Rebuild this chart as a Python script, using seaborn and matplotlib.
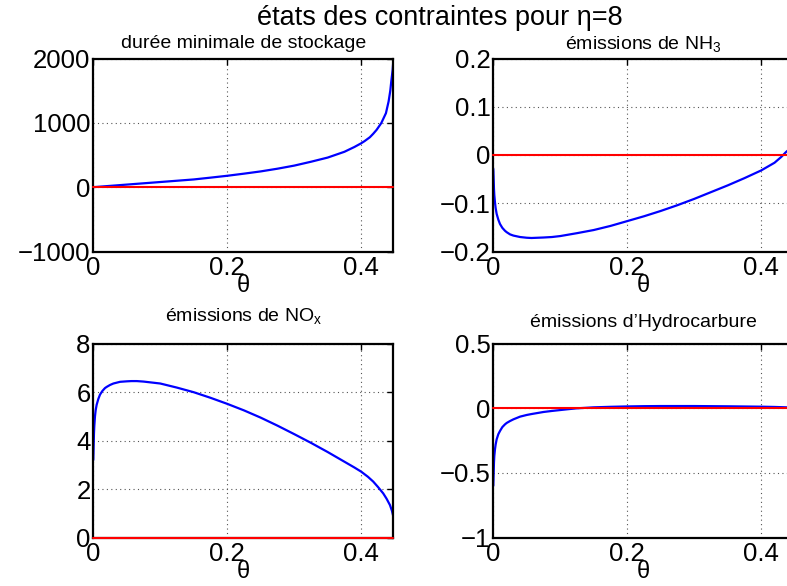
import matplotlib
matplotlib.use("Agg")
import matplotlib.pyplot as plt
from matplotlib.ticker import FuncFormatter
import seaborn as sns
import pandas as pd

# ---------------- data ----------------
theta_duree = [0, 0.05, 0.075, 0.10, 0.125, 0.15, 0.175, 0.20, 0.225, 0.25, 0.275,
               0.30, 0.325, 0.35, 0.375, 0.39, 0.40, 0.405, 0.413, 0.418, 0.423,
               0.430, 0.437, 0.441, 0.4435, 0.445, 0.447, 0.448]
duree = [0, 40, 60, 80, 100, 120, 148, 177, 210, 245, 287,
         335, 395, 460, 550, 625, 682, 715, 776, 830, 890,
         995, 1150, 1333, 1500, 1646, 1820, 1960]

theta_nh3 = [0, 0.001, 0.0015, 0.0025, 0.0035, 0.005, 0.0075, 0.01, 0.0135, 0.0174,
             0.02, 0.025, 0.03, 0.04, 0.05, 0.057, 0.075, 0.0875, 0.10, 0.125,
             0.15, 0.175, 0.20, 0.225, 0.25, 0.275, 0.30, 0.325, 0.35, 0.375,
             0.40, 0.41, 0.42, 0.43, 0.437, 0.443, 0.448]
nh3 = [-0.0285, -0.07, -0.083, -0.098, -0.11, -0.122, -0.134, -0.143, -0.151, -0.157,
       -0.160, -0.1645, -0.167, -0.170, -0.1715, -0.172, -0.171, -0.170, -0.168, -0.162,
       -0.1555, -0.147, -0.137, -0.127, -0.116, -0.104, -0.091, -0.077, -0.063, -0.048,
       -0.032, -0.024, -0.016, -0.004, 0.006, 0.013, 0.02]

theta_nox = [0, 0.001, 0.0015, 0.0025, 0.0035, 0.005, 0.0075, 0.01, 0.0135, 0.0174,
             0.02, 0.025, 0.03, 0.04, 0.05, 0.057, 0.065, 0.075, 0.0875, 0.10,
             0.125, 0.15, 0.175, 0.20, 0.225, 0.25, 0.275, 0.30, 0.325, 0.35,
             0.375, 0.39, 0.40, 0.41, 0.418, 0.425, 0.433, 0.438, 0.443, 0.446, 0.448]
nox = [3.2, 4.3, 4.6, 5.0, 5.25, 5.48, 5.72, 5.9, 6.05, 6.17,
       6.22, 6.3, 6.36, 6.43, 6.45, 6.46, 6.46, 6.44, 6.40, 6.36,
       6.19, 6.0, 5.77, 5.52, 5.25, 4.95, 4.62, 4.27, 3.91, 3.53,
       3.13, 2.89, 2.72, 2.51, 2.31, 2.09, 1.82, 1.60, 1.34, 1.10, 0.87]

theta_hc = [0, 0.001, 0.0015, 0.0025, 0.0035, 0.005, 0.0075, 0.01, 0.0135, 0.0174,
            0.02, 0.025, 0.03, 0.04, 0.05, 0.057, 0.075, 0.0875, 0.10, 0.1125,
            0.124, 0.15, 0.175, 0.20, 0.225, 0.25, 0.275, 0.30, 0.325, 0.35,
            0.375, 0.40, 0.42, 0.438, 0.448]
hc = [-0.60, -0.42, -0.37, -0.317, -0.28, -0.24, -0.20, -0.175, -0.145, -0.124,
      -0.113, -0.098, -0.085, -0.064, -0.051, -0.044, -0.028, -0.020, -0.013, -0.006,
      0.0, 0.008, 0.012, 0.015, 0.017, 0.018, 0.018, 0.018, 0.017, 0.016,
      0.0145, 0.013, 0.011, 0.008, 0.006]

theta_range = [0, 0.448]          # x-axis extent of every panel
seuils = [0, 0, 0, 0]             # constraint threshold (red line) per panel

titles = ["durée minimale de stockage",
          r"émissions de NH$_\mathregular{3}$",
          r"émissions de NO$_\mathregular{x}$",
          "émissions d\u2019Hydrocarbure"]
ylims = [(-1000, 2000), (-0.2, 0.2), (0, 8), (-1, 0.5)]
yticks = [[-1000, 0, 1000, 2000], [-0.2, -0.1, 0, 0.1, 0.2], [0, 2, 4, 6, 8], [-1, -0.5, 0, 0.5]]
xticks = [0, 0.2, 0.4]
suptitle = "états des contraintes pour \u03b7=8"
xlabel = "\u03b8"

# ---------------- style ----------------
sns.set_theme(style="white")
plt.rcParams["font.family"] = ["Liberation Sans", "DejaVu Sans"]
plt.rcParams["mathtext.fontset"] = "custom"
plt.rcParams["mathtext.rm"] = "Liberation Sans"
plt.rcParams["axes.unicode_minus"] = True
plt.rcParams["text.color"] = "black"
plt.rcParams["axes.labelcolor"] = "black"
plt.rcParams["xtick.color"] = "black"
plt.rcParams["ytick.color"] = "black"

fmt = FuncFormatter(lambda v, p: ("%g" % v).replace("-", "\u2212"))

W, H = 787, 586
fig = plt.figure(figsize=(W / 100, H / 100), dpi=100)
fig.patch.set_facecolor("white")

# axes boxes in pixels: (left, top, right, bottom)
boxes = [(93.3, 58.5, 393.3, 251.5), (493.3, 58.5, 793.3, 251.5),
         (93.3, 343.8, 393.3, 537.5), (493.3, 343.8, 793.3, 537.5)]
title_gap = [10.5, 8.5, 22.5, 16.5]   # px between axes top and title baseline

series = [(theta_duree, duree), (theta_nh3, nh3), (theta_nox, nox), (theta_hc, hc)]

for i, ((l, t, r, b), (tx, ty)) in enumerate(zip(boxes, series)):
    ax = fig.add_axes([l / W, (H - b) / H, (r - l) / W, (b - t) / H])
    df = pd.DataFrame({"theta": tx, "val": ty})
    sns.lineplot(data=df, x="theta", y="val", ax=ax, color="#0000ff", linewidth=1.6,
                 estimator=None, sort=False)
    dfr = pd.DataFrame({"theta": theta_range, "val": [seuils[i]] * len(theta_range)})
    sns.lineplot(data=dfr, x="theta", y="val", ax=ax, color="#ff0000", linewidth=1.5,
                 estimator=None, sort=False)
    ax.lines[-1].set_clip_on(False)
    ax.lines[-1].set_zorder(3)

    ax.set_xlim(theta_range)
    ax.set_ylim(ylims[i])
    ax.set_xticks(xticks)
    ax.set_yticks(yticks[i])
    ax.xaxis.set_major_formatter(fmt)
    ax.yaxis.set_major_formatter(fmt)
    ax.set_ylabel("")
    ax.set_xlabel(xlabel, fontsize=17, labelpad=-3)
    ax.grid(True, color="#555555", linestyle=(0, (1, 3)), linewidth=0.8)
    ax.tick_params(direction="in", length=4, width=1, top=True, right=True,
                   labelsize=18.5, colors="black")
    ax.tick_params(axis="x", pad=3)
    ax.tick_params(axis="y", pad=2)
    for s in ax.spines.values():
        s.set_visible(True)
        s.set_color("black")
        s.set_linewidth(1.6)
    ax.set_facecolor("white")
    ax.text(0.5, 1 + title_gap[i] / (b - t), titles[i], transform=ax.transAxes,
            ha="center", va="baseline", fontsize=14, color="black")

fig.text(440 / W, 1 - 25 / H, suptitle, ha="center", va="baseline", fontsize=19.5,
         color="black")

fig.savefig("out.png", dpi=100, facecolor="white")
